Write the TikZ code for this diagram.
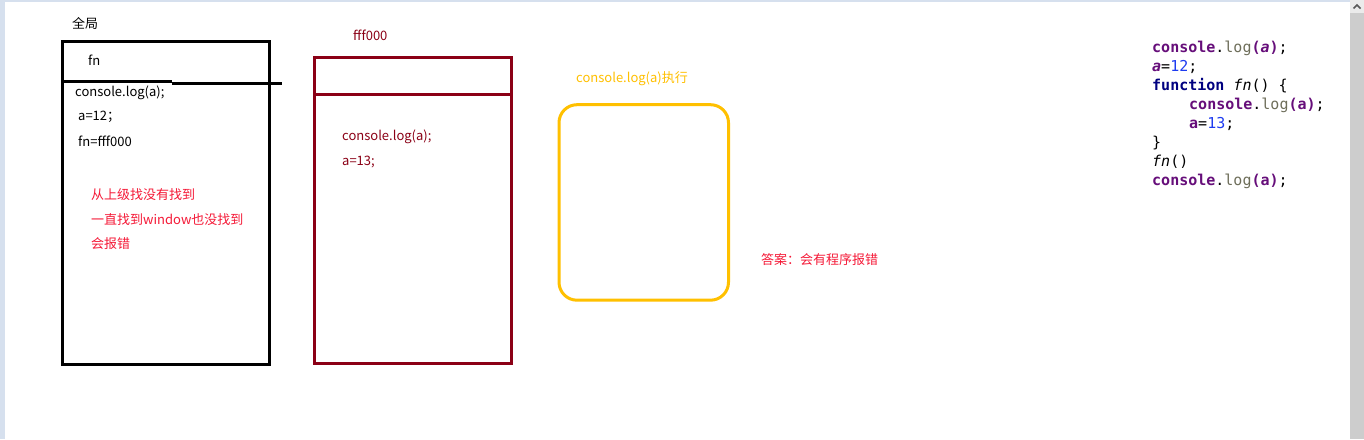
\documentclass[tikz,border=0pt]{standalone}
\usepackage{fontspec}
\setmainfont{Noto Sans CJK SC}
\newfontfamily\codefont{DejaVu Sans Mono}
\definecolor{darkred}{RGB}{139,0,22}
\definecolor{warnred}{RGB}{245,25,55}
\definecolor{gold}{RGB}{255,192,0}
\definecolor{kwpurple}{RGB}{102,14,122}
\definecolor{kwnavy}{RGB}{0,0,128}
\definecolor{numblue}{RGB}{30,60,240}
\definecolor{loggray}{RGB}{110,110,90}
\definecolor{framebg}{RGB}{214,224,238}
\definecolor{scrollgray}{RGB}{205,205,205}
\begin{document}
\begin{tikzpicture}[x=1pt,y=-1pt,
  txt/.style={anchor=base west, inner sep=0pt, font=\fontsize{13}{15}\selectfont},
  codeline/.style={anchor=base west, inner sep=0pt, font=\codefont\fontsize{15}{19}\selectfont},
  framebox/.style={draw, line width=3pt, anchor=north west, inner sep=0pt, outer sep=0pt},
  divider/.style={line width=3pt}
]
\useasboundingbox (0,0) rectangle (1364,439);
\fill[white] (0,0) rectangle (1364,439);
% window frame
\fill[framebg] (0,0) rectangle (5,439);
\fill[framebg] (0,0) rectangle (1350,2);
\fill[scrollgray] (1350,0) rectangle (1364,439);
\fill[black!8] (1350,0) rectangle (1364,13);
\draw[black!65, line width=1.5pt] (1353.5,8.5) -- (1357,5) -- (1360.5,8.5);

% global box
\node[txt] (gtitle) at (72,28) {全局};
\node[framebox, draw=black, minimum width=207pt, minimum height=323pt] (gbox) at (62,41) {};
\coordinate (gd1) at (62,81.5);
\coordinate (gd2) at (172,81.5);
\coordinate (gd3) at (172,83);
\coordinate (gd4) at (282,83);
\draw[divider] (gd1) -- (gd2);
\draw[divider] (gd3) -- (gd4);
\node[txt] (gfn) at (88,65.5) {fn};
\node[txt] (gl1) at (75,96.5) {console.log(a);};
\node[txt] (gl2) at (78,120.5) {a=12；};
\node[txt] (gl3) at (78,146) {fn=fff000};
\node[txt, text=warnred] (gr1) at (91,199) {从上级找没有找到};
\node[txt, text=warnred] (gr2) at (91,224) {一直找到window也没找到};
\node[txt, text=warnred] (gr3) at (91,248) {会报错};

% fff000 box
\node[txt, text=darkred] (ftitle) at (353,40) {fff000};
\node[framebox, draw=darkred, minimum width=196.5pt, minimum height=305.5pt] (fbox) at (314.7,57.5) {};
\draw[divider, draw=darkred] (fbox.north west |- 0,94.5) -- (fbox.north east |- 0,94.5);
\node[txt, text=darkred] (fl1) at (342,140) {console.log(a);};
\node[txt, text=darkred] (fl2) at (342,165) {a=13;};

% execution box
\node[txt, text=gold] (etitle) at (576,82) {console.log(a)执行};
\node[framebox, draw=gold, rounded corners=18pt, minimum width=169.5pt, minimum height=195.5pt] (ebox) at (559,104.7) {};

\node[txt, text=warnred] (answer) at (761,264) {答案：会有程序报错};

% code
\node[codeline] (c1) at (1152,52.7) {\textbf{\color{kwpurple}console}.{\color{loggray}log}\textbf{\color{kwpurple}(\textit{a})};};
\node[codeline] (c2) at (1152,71.6) {\textbf{\color{kwpurple}\textit{a}}=\color{numblue}12\color{black};};
\node[codeline] (c3) at (1152,90.5) {\textbf{\color{kwnavy}function} \textit{fn}() \{};
\node[codeline] (c4) at (1189,109.4) {\textbf{\color{kwpurple}console}.{\color{loggray}log}\textbf{\color{kwpurple}(a)};};
\node[codeline] (c5) at (1189,128.3) {\textbf{\color{kwpurple}a}=\color{numblue}13\color{black};};
\node[codeline] (c6) at (1152,147.2) {\}};
\node[codeline] (c7) at (1152,166.1) {\textit{fn}()};
\node[codeline] (c8) at (1152,185) {\textbf{\color{kwpurple}console}.{\color{loggray}log}\textbf{\color{kwpurple}(a)};};
\end{tikzpicture}
\end{document}
